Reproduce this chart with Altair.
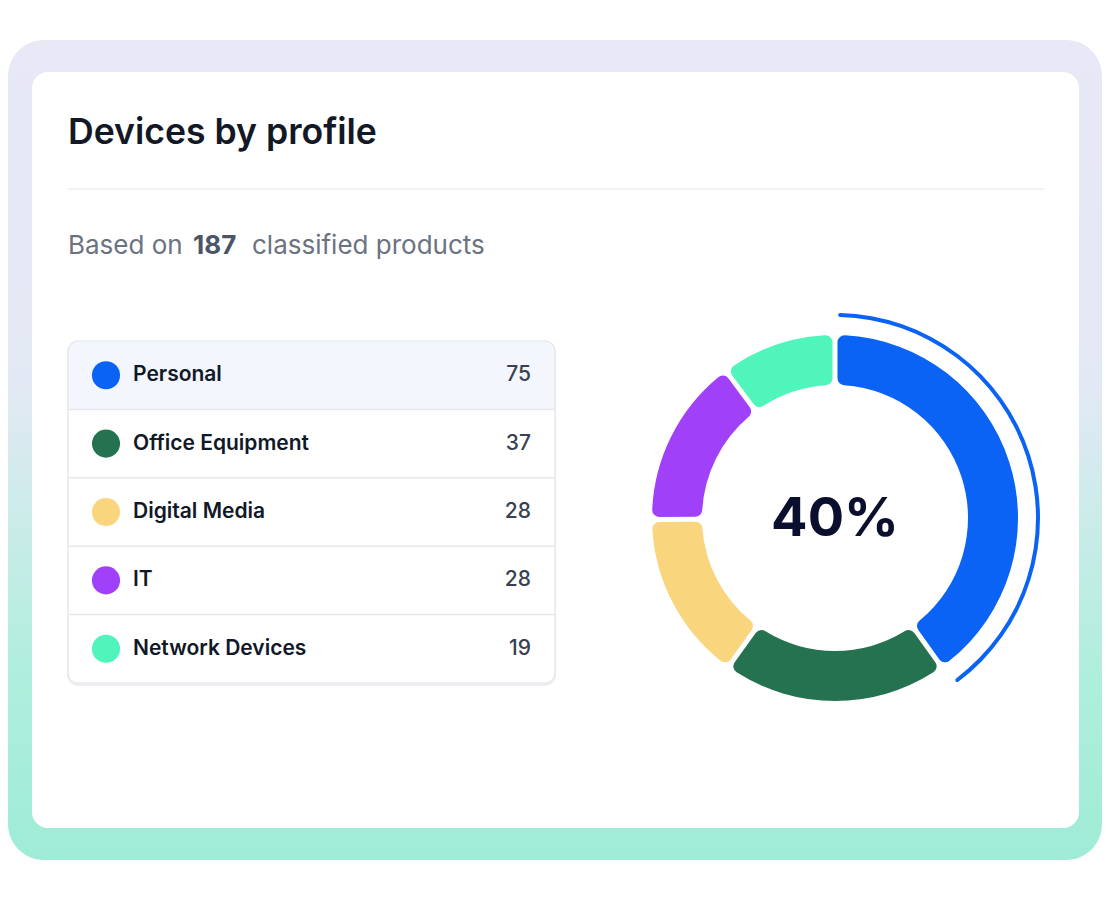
import pandas as pd
import altair as alt

# profile categories and their device counts
categories = ["Personal", "Office Equipment", "Digital Media", "IT", "Network Devices"]
counts = [75, 37, 28, 28, 19]
colors = ["#0b63f6", "#257251", "#f9d57e", "#a040f8", "#50f5bc"]

total = sum(counts)
share_label = f"{round(100 * counts[0] / total)}%"

df = pd.DataFrame({"category": categories, "count": counts, "idx": range(len(categories))})
one = pd.DataFrame({"k": [0]})

FONT = "Inter"
color_scale = alt.Scale(domain=categories, range=colors)
row_scale = alt.Scale(domain=categories, range=[333, 675], paddingInner=0, paddingOuter=0)
row_y = alt.Y("category:N", axis=None, scale=row_scale)

# background frame with the lavender-to-mint gradient
frame = alt.Chart(one).mark_rect(
    cornerRadius=36,
    fill=alt.LinearGradient(
        gradient="linear", x1=0, x2=0, y1=0, y2=1,
        stops=[alt.GradientStop(offset=0, color="#e8e8f6"),
               alt.GradientStop(offset=0.42, color="#e3e9f4"),
               alt.GradientStop(offset=0.78, color="#aeeedc"),
               alt.GradientStop(offset=1, color="#9fecd6")],
    ),
).encode(x=alt.value(0), x2=alt.value(1094), y=alt.value(32), y2=alt.value(852))

card = alt.Chart(one).mark_rect(cornerRadius=16, fill="white").encode(
    x=alt.value(24), x2=alt.value(1071), y=alt.value(64), y2=alt.value(820)
)

divider = alt.Chart(one).mark_rule(color="#e5e7eb", strokeWidth=1.2).encode(
    x=alt.value(60), x2=alt.value(1036), y=alt.value(181)
)

title = alt.Chart(one).mark_text(
    text="Devices by profile", font=FONT, fontSize=35.6, fontWeight=600, color="#121826",
    align="left", baseline="alphabetic"
).encode(x=alt.value(60), y=alt.value(136))

sub_a = alt.Chart(one).mark_text(
    text="Based on", font=FONT, fontSize=26, color="#6b7280", align="left", baseline="alphabetic"
).encode(x=alt.value(60), y=alt.value(246))
sub_b = alt.Chart(one).mark_text(
    text=str(total), font=FONT, fontSize=26, fontWeight=700, color="#4b5563",
    align="left", baseline="alphabetic"
).encode(x=alt.value(185), y=alt.value(246))
sub_c = alt.Chart(one).mark_text(
    text="classified products", font=FONT, fontSize=26, color="#6b7280",
    align="left", baseline="alphabetic"
).encode(x=alt.value(244), y=alt.value(246))

# legend table
table_shadow = alt.Chart(one).mark_rect(cornerRadius=11, fill="#eceef3").encode(
    x=alt.value(59), x2=alt.value(548), y=alt.value(334), y2=alt.value(678)
)
table_fill = alt.Chart(one).mark_rect(cornerRadius=10, fill="white").encode(
    x=alt.value(60), x2=alt.value(547), y=alt.value(333), y2=alt.value(675)
)
highlight = alt.Chart(df).transform_filter(alt.datum.idx == 0).mark_rect(
    fill="#f3f6fd", cornerRadiusTopLeft=10, cornerRadiusTopRight=10
).encode(x=alt.value(60), x2=alt.value(547), y=row_y)

separators = alt.Chart(df).transform_filter(alt.datum.idx > 0).mark_rule(
    color="#e6e8ec", strokeWidth=1.5
).encode(x=alt.value(60), x2=alt.value(547),
         y=alt.Y("category:N", axis=None, bandPosition=0, scale=row_scale))

table_border = alt.Chart(one).mark_rect(
    cornerRadius=10, fillOpacity=0, stroke="#e3e6eb", strokeWidth=1.2
).encode(x=alt.value(60), x2=alt.value(547), y=alt.value(333), y2=alt.value(675))

dots = alt.Chart(df).mark_circle(size=790, opacity=1).encode(
    x=alt.value(98), y=row_y,
    color=alt.Color("category:N", scale=color_scale, legend=None)
)
labels = alt.Chart(df).mark_text(
    font=FONT, fontSize=21, fontWeight=600, color="#111827", align="left", baseline="middle"
).encode(x=alt.value(125), y=row_y, text="category:N")
values = alt.Chart(df).mark_text(
    font=FONT, fontSize=21, fontWeight=500, color="#374151", align="right", baseline="middle"
).encode(x=alt.value(523), y=row_y, text="count:Q")

# donut
theta = alt.Theta("count:Q", stack=True)
order = alt.Order("idx:O")
donut = alt.Chart(df).mark_arc(radius=183, radius2=133, cornerRadius=7, padAngle=0.022).encode(
    theta=theta, order=order, x=alt.value(827), y=alt.value(510),
    color=alt.Color("category:N", scale=color_scale, legend=None)
)
ring = alt.Chart(df).mark_arc(radius=205, radius2=201, cornerRadius=2, padAngle=0.022).encode(
    theta=theta, order=order, detail="category:N", x=alt.value(827), y=alt.value(510),
    fill=alt.condition(alt.datum.idx == 0, alt.value(colors[0]), alt.value("transparent"))
)
center = alt.Chart(one).mark_text(
    text=share_label, font=FONT, fontSize=54, fontWeight=700, color="#0b0f2e",
    align="center", baseline="middle"
).encode(x=alt.value(827), y=alt.value(512))

chart = alt.layer(
    frame, card, divider, title, sub_a, sub_b, sub_c,
    table_shadow, table_fill, highlight, separators, table_border,
    dots, labels, values, donut, ring, center
).properties(
    width=1094, height=884, padding=0, autosize="none", background="white"
).configure_view(stroke=None)

chart.save("out.html", embed_options={"renderer": "svg", "actions": False})
